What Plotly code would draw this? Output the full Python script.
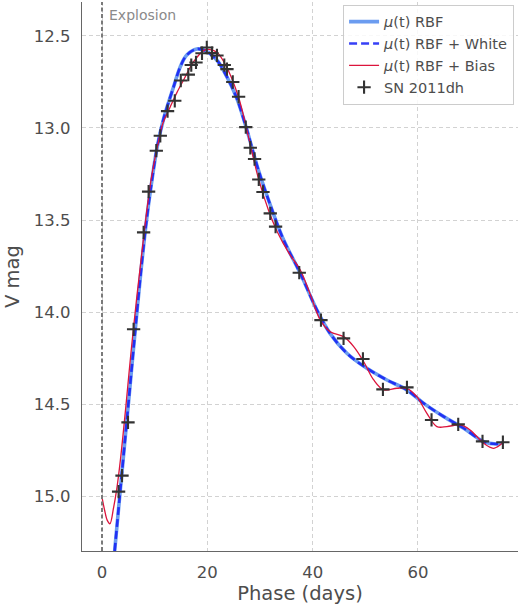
import plotly.graph_objects as go

# ---- data ----
obs_phase = [3.15, 3.80, 4.94, 6.00, 7.90, 8.85, 10.31, 11.07, 12.45, 13.82,
             14.96, 16.39, 16.95, 17.85, 18.99, 19.90, 20.88, 21.83, 23.22, 23.73,
             24.83, 25.94, 27.30, 28.16, 28.97, 29.77, 30.57, 31.95, 32.96, 37.46,
             41.58, 45.87, 49.55, 53.35, 57.91, 62.58, 67.65, 72.26, 76.13]
obs_mag = [14.974, 14.887, 14.598, 14.093, 13.567, 13.346, 13.124, 13.043, 12.909, 12.853,
           12.743, 12.711, 12.659, 12.645, 12.595, 12.564, 12.594, 12.607, 12.659, 12.681,
           12.751, 12.831, 12.996, 13.108, 13.169, 13.280, 13.348, 13.464, 13.536, 13.786,
           14.043, 14.142, 14.254, 14.419, 14.408, 14.585, 14.609, 14.701, 14.706]

rbf_phase = [2.4, 3.36, 5.0, 6.63, 7.6, 8.5, 9.5, 10.5, 11.7, 13.6, 14.87, 16.1, 18.0,
             19.6, 21.8, 23.7, 25.6, 27.3, 29.7, 32.3, 34.5, 37.65, 40.8, 43.3, 46.5,
             50.3, 54.1, 57.9, 61.1, 64.9, 68.7, 72.5, 75.0, 76.2]
rbf_mag = [15.296, 15.0, 14.5, 14.0, 13.72, 13.49, 13.28, 13.10, 12.95, 12.777, 12.668,
           12.605, 12.572, 12.581, 12.632, 12.722, 12.84, 12.99, 13.229, 13.446, 13.609,
           13.789, 13.988, 14.115, 14.223, 14.305, 14.368, 14.422, 14.495, 14.567, 14.63,
           14.703, 14.715, 14.708]

bias_phase = [0.0, 0.5, 1.0, 1.5, 2.2, 2.8, 3.5, 4.5, 5.5, 6.6, 7.6, 8.5, 9.5, 10.75,
              11.5, 12.97, 14.2, 15.5, 17.4, 19.3, 20.2, 21.8, 23.4, 25.9, 27.8, 29.7,
              31.6, 33.3, 35.5, 37.65, 39.5, 41.45, 43.35, 45.9, 47.8, 49.7, 51.6, 53.5,
              56.0, 57.9, 59.8, 61.7, 63.6, 65.5, 68.0, 69.9, 72.5, 74.3, 75.6, 76.2]
bias_mag = [15.005, 15.075, 15.13, 15.148, 15.06, 14.96, 14.80, 14.52, 14.22, 13.92,
            13.67, 13.45, 13.25, 13.07, 12.98, 12.885, 12.81, 12.74, 12.641, 12.581,
            12.574, 12.590, 12.655, 12.831, 13.048, 13.274, 13.446, 13.565, 13.68, 13.771,
            13.90, 14.043, 14.106, 14.133, 14.187, 14.269, 14.368, 14.422, 14.413, 14.413,
            14.459, 14.549, 14.621, 14.621, 14.612, 14.639, 14.712, 14.739, 14.721, 14.703]

x_ticks = [0, 20, 40, 60]
y_ticks = [12.5, 13.0, 13.5, 14.0, 14.5, 15.0]

FONT = "DejaVu Sans"
fig = go.Figure()

fig.add_trace(go.Scatter(x=rbf_phase, y=rbf_mag, mode="lines", name="<i>μ</i>(t) RBF",
                         line=dict(color="#6b9cf0", width=3.6, shape="spline", smoothing=1.0)))
fig.add_trace(go.Scatter(x=rbf_phase, y=rbf_mag, mode="lines", name="<i>μ</i>(t) RBF + White",
                         line=dict(color="rgba(20,30,245,0.85)", width=2.6, dash="8px,4px",
                                   shape="spline", smoothing=1.0)))
fig.add_trace(go.Scatter(x=bias_phase, y=bias_mag, mode="lines", name="<i>μ</i>(t) RBF + Bias",
                         line=dict(color="#dc143c", width=1.3, shape="spline", smoothing=1.0)))
fig.add_trace(go.Scatter(x=obs_phase, y=obs_mag, mode="markers", name="SN 2011dh",
                         marker=dict(symbol="cross-thin", size=9.5,
                                     line=dict(color="#333333", width=2.1))))

# explosion line
fig.add_shape(type="line", x0=0, x1=0, y0=0, y1=1, xref="x", yref="paper",
              line=dict(color="#7a7a7a", width=2, dash="4px,2.5px"), layer="above")
fig.add_annotation(x=0.9, y=12.388, xref="x", yref="y", text="Explosion", showarrow=False,
                   xanchor="left", yanchor="middle",
                   font=dict(family=FONT, size=14, color="#8a8a8a"))

axis_common = dict(showline=True, linecolor="#666666", linewidth=1.3, mirror=False,
                   showgrid=True, gridcolor="#d2d2d2", gridwidth=0.9, griddash="4px,3px",
                   zeroline=False, ticks="",
                   tickfont=dict(family=FONT, size=16.5, color="#4d4d4d"))

fig.update_xaxes(range=[-3.8, 79.0], tickvals=x_ticks, ticklabelstandoff=6,
                 title=dict(text="Phase (days)", font=dict(family=FONT, size=19.5, color="#4d4d4d"),
                            standoff=0),
                 **axis_common)
fig.update_yaxes(range=[15.296, 12.317], tickvals=y_ticks, tickformat=".1f", ticklabelstandoff=7,
                 title=dict(text="V mag", font=dict(family=FONT, size=19.5, color="#4d4d4d"),
                            standoff=8),
                 **axis_common)

fig.update_layout(
    width=518, height=608,
    margin=dict(l=82, r=0, t=2, b=57, autoexpand=False),
    plot_bgcolor="white", paper_bgcolor="white",
    font=dict(family=FONT, color="#4d4d4d"),
    showlegend=True,
    legend=dict(x=0.991, y=0.995, xanchor="right", yanchor="top",
                bgcolor="rgba(255,255,255,0.85)", bordercolor="#cccccc", borderwidth=1,
                font=dict(family=FONT, size=14.5, color="#4d4d4d"),
                itemwidth=30, tracegroupgap=0),
)

fig.write_html("out.html")
